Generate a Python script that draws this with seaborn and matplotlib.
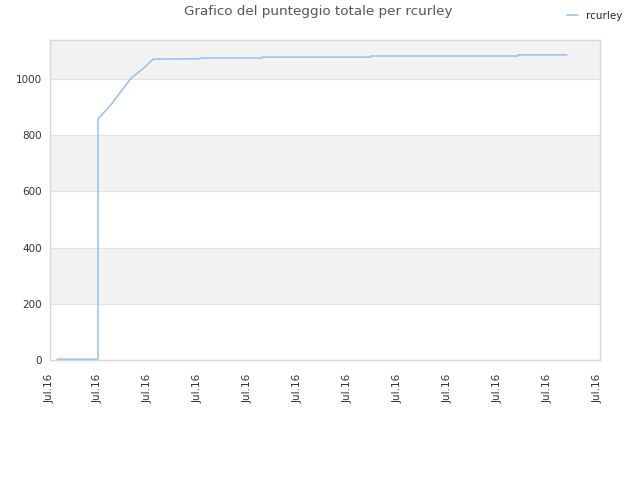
import numpy as np
import pandas as pd
import matplotlib
matplotlib.use("Agg")
import matplotlib.pyplot as plt
import seaborn as sns

# dati (asse x in unità arbitrarie di tempo)
tempo = [7, 48, 48, 61.7, 73.3, 80.7, 93.3, 103.3, 150, 150, 212, 212,
         320.7, 320.7, 468, 468, 517]
punteggio = [3, 3, 858, 912, 967, 1002, 1038, 1071, 1072, 1075, 1075, 1078,
             1078, 1082, 1082, 1086, 1086]
tick_pos = [0, 48, 98, 148, 198, 248, 298, 348, 398, 448, 498, 548]
tick_lab = ["Jul.16"] * len(tick_pos)
y_ticks = [0, 200, 400, 600, 800, 1000]

df = pd.DataFrame({"tempo": tempo, "punteggio": punteggio, "utente": "rcurley"})

sns.set_style("white")
plt.rcParams['font.family'] = ['DejaVu Sans']

fig = plt.figure(figsize=(6.4, 4.8), dpi=100)
ax = fig.add_axes([50 / 640, 120 / 480, 550 / 640, 320 / 480])

ymax = 1139
# bande alternate di sfondo
for lo in [200, 600, 1000]:
    ax.axhspan(lo, min(lo + 200, ymax), color="#f2f2f2", zorder=0, lw=0)
for yv in y_ticks[1:]:
    ax.axhline(yv, color="#e2e2e2", lw=0.8, zorder=0.5)

sns.lineplot(data=df, x="tempo", y="punteggio", sort=False, estimator=None,
             color="#92c2ef", lw=1.1, ax=ax, label="rcurley", legend=False)

ax.set_xlim(0, 550)
ax.set_ylim(0, ymax)
ax.set_xticks(tick_pos)
ax.set_xticklabels(tick_lab, rotation=90, fontsize=7.5, color="#333333")
ax.set_yticks(y_ticks)
ax.set_yticklabels([str(v) for v in y_ticks], fontsize=7.5, color="#333333")
ax.tick_params(length=0, pad=6)
ax.tick_params(axis="x", pad=10)
ax.set_xlabel("")
ax.set_ylabel("")
for s in ax.spines.values():
    s.set_color("#d8d8d8")
    s.set_linewidth(1)

fig.text(318 / 640, 1 - 12 / 480, "Grafico del punteggio totale per rcurley",
         ha="center", va="center", fontsize=9.7, color="#555555")
fig.legend(handles=ax.get_lines()[-1:], labels=["rcurley"], loc="center",
           bbox_to_anchor=(595 / 640, 1 - 16 / 480), frameon=False, fontsize=7.5,
           handlelength=1.0, handletextpad=0.8)

plt.savefig("out.png", dpi=100)
plt.close()
